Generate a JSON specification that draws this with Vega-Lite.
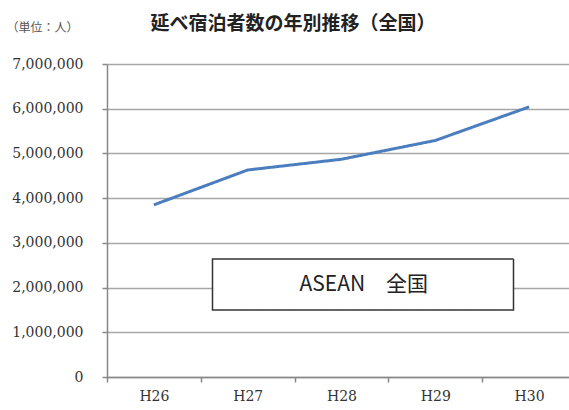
{
  "$schema": "https://vega.github.io/schema/vega-lite/v6.json",
  "width": 462,
  "height": 313,
  "autosize": {"type": "none"},
  "padding": {"left": 107, "top": 64, "right": 0, "bottom": 33},
  "background": "white",
  "title": {
    "text": "延べ宿泊者数の年別推移（全国）",
    "font": "Noto Sans CJK JP",
    "fontSize": 19,
    "fontWeight": "bold",
    "color": "#222222",
    "anchor": "middle",
    "frame": "group",
    "dx": -45,
    "offset": -13
  },
  "data": {
    "values": [
      {"year": "H26", "guests": 3850000, "series": "ASEAN　全国"},
      {"year": "H27", "guests": 4630000, "series": "ASEAN　全国"},
      {"year": "H28", "guests": 4870000, "series": "ASEAN　全国"},
      {"year": "H29", "guests": 5290000, "series": "ASEAN　全国"},
      {"year": "H30", "guests": 6040000, "series": "ASEAN　全国"}
    ]
  },
  "mark": {"type": "line", "strokeWidth": 3, "color": "#4a7ebf"},
  "encoding": {
    "x": {
      "field": "year",
      "type": "ordinal",
      "sort": null,
      "scale": {"type": "band", "rangeMax": 469, "paddingInner": 0, "paddingOuter": 0},
      "axis": {
        "title": null,
        "labelAngle": 0,
        "labelFont": "DejaVu Serif",
        "labelFontSize": 14,
        "labelColor": "#333333",
        "labelPadding": 7,
        "tickBand": "extent",
        "tickColor": "#888888",
        "tickSize": 5,
        "tickWidth": 1.5,
        "domainColor": "#888888",
        "domainWidth": 1.5,
        "grid": false
      }
    },
    "y": {
      "field": "guests",
      "type": "quantitative",
      "scale": {"domain": [0, 7000000], "nice": false},
      "axis": {
        "title": "（単位：人）",
        "titleAngle": 0,
        "titleX": -101,
        "titleY": -37,
        "titleAlign": "left",
        "titleBaseline": "middle",
        "titleFont": "Noto Sans CJK JP",
        "titleFontSize": 12,
        "titleFontWeight": "normal",
        "titleColor": "#555555",
        "values": [0, 1000000, 2000000, 3000000, 4000000, 5000000, 6000000, 7000000],
        "format": ",.0f",
        "labelFont": "DejaVu Serif",
        "labelFontSize": 14,
        "labelColor": "#333333",
        "labelPadding": 19,
        "tickSize": 5,
        "tickColor": "#888888",
        "tickWidth": 1.5,
        "gridColor": "#a6a6a6",
        "gridWidth": 1.5,
        "domainColor": "#888888",
        "domainWidth": 1.5
      }
    },
    "strokeDash": {
      "field": "series",
      "type": "nominal",
      "scale": {"range": [[1, 0]]},
      "legend": {
        "orient": "none",
        "legendX": 104.5,
        "legendY": 69,
        "title": null,
        "padding": 0,
        "symbolType": "M-1,-0.1694H1V0.1694H-1Z",
        "symbolSize": 90601,
        "symbolOpacity": 1,
        "symbolFillColor": "white",
        "symbolStrokeColor": "#333333",
        "symbolStrokeWidth": 1.5,
        "labelOffset": -215,
        "labelAlign": "left",
        "labelFont": "Noto Sans CJK JP",
        "labelFontSize": 21,
        "labelColor": "#222222",
        "labelLimit": 400
      }
    }
  }
}
